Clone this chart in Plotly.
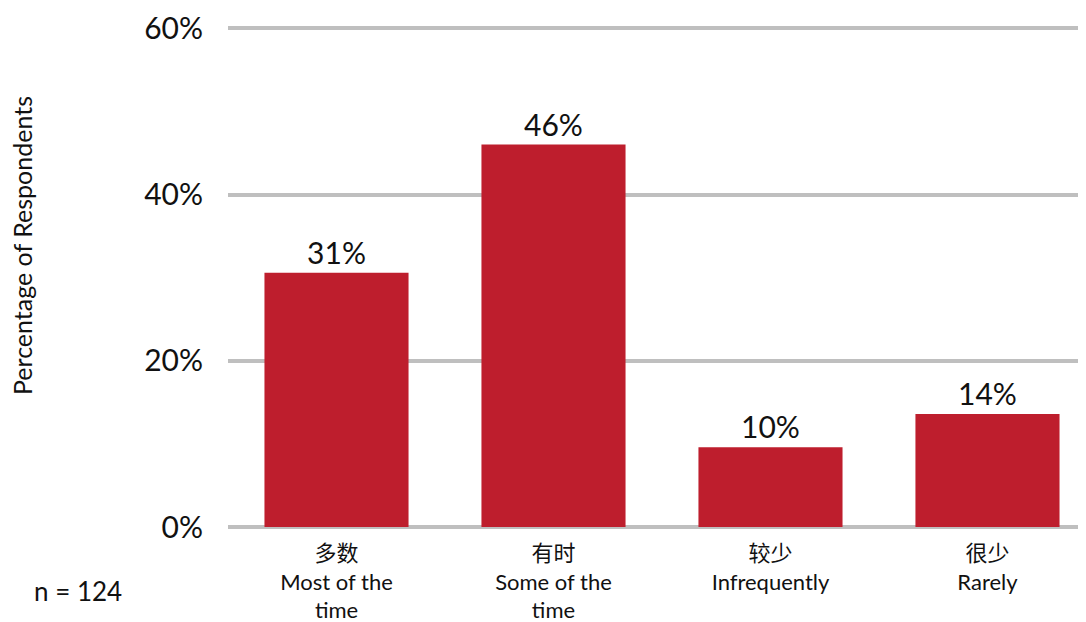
import plotly.graph_objects as go

categories = ["多数<br>Most of the<br>time", "有时<br>Some of the<br>time", "较少<br>Infrequently", "很少<br>Rarely"]
values = [30.6, 46.0, 9.6, 13.6]
value_labels = ["31%", "46%", "10%", "14%"]
y_ticks = [0, 20, 40, 60]
y_tick_labels = ["0%", "20%", "40%", "60%"]
sample_note = "n = 124"
y_title = "Percentage of Respondents"

FONT = "Lato, 'Noto Sans CJK SC', sans-serif"
RED = "#BE1E2D"
GRID = "#BFBFBF"

# page body has an 8px margin
W, H = 1078, 614
L, T, PW, PH = 220, 19, 858, 500

fig = go.Figure(
    go.Bar(
        x=list(range(len(categories))),
        y=values,
        marker=dict(color=RED, line=dict(width=0)),
        text=value_labels,
        textposition="outside",
        textfont=dict(family=FONT, size=30, color="#111111"),
        cliponaxis=False,
        width=0.664,
    )
)

fig.update_layout(
    width=W,
    height=H,
    margin=dict(l=L, r=W - L - PW, t=T, b=H - T - PH, autoexpand=False),
    paper_bgcolor="white",
    plot_bgcolor="white",
    showlegend=False,
    font=dict(family=FONT, color="#111111"),
    xaxis=dict(
        tickmode="array",
        tickvals=list(range(len(categories))),
        ticktext=categories,
        range=[-0.5, 3.454],
        showgrid=False,
        zeroline=False,
        showline=False,
        ticks="",
        automargin=False,
        ticklabelstandoff=11,
        tickfont=dict(family=FONT, size=22, color="#111111"),
    ),
    yaxis=dict(
        range=[0, 60.15],
        tickmode="array",
        tickvals=y_ticks,
        ticktext=y_tick_labels,
        showgrid=True,
        gridcolor=GRID,
        gridwidth=4,
        zeroline=True,
        zerolinecolor=GRID,
        zerolinewidth=4,
        showline=False,
        ticks="",
        automargin=False,
        ticklabelstandoff=24,
        tickfont=dict(family=FONT, size=30, color="#111111"),
    ),
    annotations=[
        dict(
            text=y_title,
            xref="paper", yref="paper",
            x=(14 - L) / PW, y=0.562,
            textangle=-90,
            showarrow=False,
            xanchor="center", yanchor="middle",
            font=dict(family=FONT, size=25, color="#111111"),
        ),
        dict(
            text=sample_note,
            xref="paper", yref="paper",
            x=(24 - L) / PW, y=-64 / PH,
            showarrow=False,
            xanchor="left", yanchor="middle",
            font=dict(family=FONT, size=26, color="#111111"),
        ),
    ],
)

fig.write_html("out.html")
